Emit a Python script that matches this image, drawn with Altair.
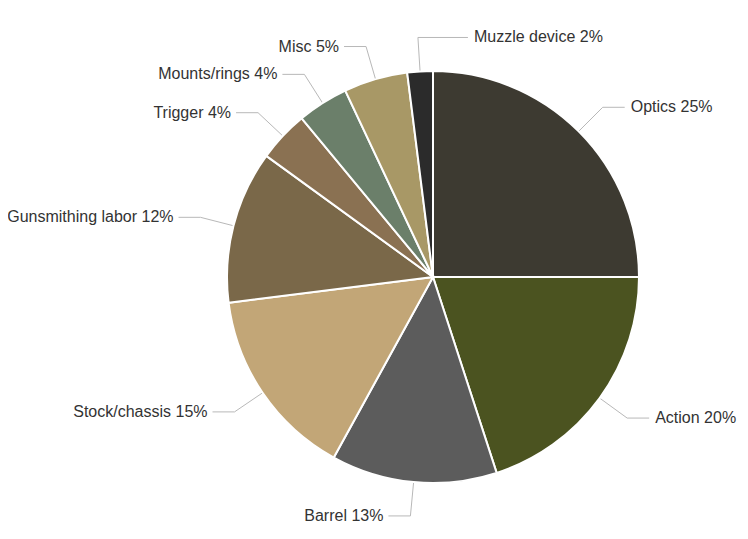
import math
import altair as alt
import pandas as pd

categories = ["Optics", "Action", "Barrel", "Stock/chassis", "Gunsmithing labor",
              "Trigger", "Mounts/rings", "Misc", "Muzzle device"]
values = [25, 20, 13, 15, 12, 4, 4, 5, 2]
colors = ["#3d3a31", "#4b5320", "#5c5c5c", "#c2a677", "#7a6849",
          "#8a7152", "#6b7f6a", "#a89866", "#2b2b2b"]

W, H = 732, 523
CX, CY = 425, 269
R = 206
R_ELBOW = 240

total = sum(values)
pie_df = pd.DataFrame({
    "category": categories,
    "value": values,
    "idx": list(range(len(categories))),
})

# leader lines and label anchors derived from slice mid-angles
line_rows = []
text_rows = []
cum = 0
for i, (c, v) in enumerate(zip(categories, values)):
    mid = (cum + v / 2) / total * 2 * math.pi
    cum += v
    s, co = math.sin(mid), math.cos(mid)
    x0, y0 = CX + R * s, CY - R * co
    x1, y1 = CX + R_ELBOW * s, CY - R_ELBOW * co
    right = s >= 0 or co > 0.99
    seg = 22 if (right == (s >= 0)) else 50
    x2 = x1 + seg if right else x1 - seg
    for j, (xx, yy) in enumerate([(x0, y0), (x1, y1), (x2, y1)]):
        line_rows.append({"category": c, "k": j, "x": xx, "y": yy})
    text_rows.append({"label": f"{c} {v}%", "x": x2 + (6 if right else -5), "y": y1,
                      "side": "right" if right else "left"})

lines_df = pd.DataFrame(line_rows)
text_df = pd.DataFrame(text_rows)

xs = alt.Scale(domain=[0, W], nice=False, zero=False)
ys = alt.Scale(domain=[H, 0], nice=False, zero=False)

pie = alt.Chart(pie_df).mark_arc(outerRadius=R, stroke="white", strokeWidth=2).encode(
    theta=alt.Theta("value:Q", stack=True),
    order=alt.Order("idx:Q"),
    color=alt.Color("category:N", scale=alt.Scale(domain=categories, range=colors), legend=None),
    x=alt.value(CX),
    y=alt.value(CY),
)

lines = alt.Chart(lines_df).mark_line(color="#b8b8b8", strokeWidth=1).encode(
    x=alt.X("x:Q", scale=xs, axis=None),
    y=alt.Y("y:Q", scale=ys, axis=None),
    detail="category:N",
    order="k:Q",
)

font = "Liberation Sans"
fs = 16
text_r = alt.Chart(text_df).transform_filter("datum.side == 'right'").mark_text(
    align="left", baseline="middle", fontSize=fs, font=font, color="#333333"
).encode(x=alt.X("x:Q", scale=xs, axis=None), y=alt.Y("y:Q", scale=ys, axis=None), text="label:N")
text_l = alt.Chart(text_df).transform_filter("datum.side == 'left'").mark_text(
    align="right", baseline="middle", fontSize=fs, font=font, color="#333333"
).encode(x=alt.X("x:Q", scale=xs, axis=None), y=alt.Y("y:Q", scale=ys, axis=None), text="label:N")

chart = alt.layer(lines, pie, text_r, text_l).properties(
    width=W, height=H, padding=0, autosize=alt.AutoSizeParams(type="none")
).configure_view(stroke=None)

chart.save("out.html", embed_options={"renderer": "svg", "actions": False})
